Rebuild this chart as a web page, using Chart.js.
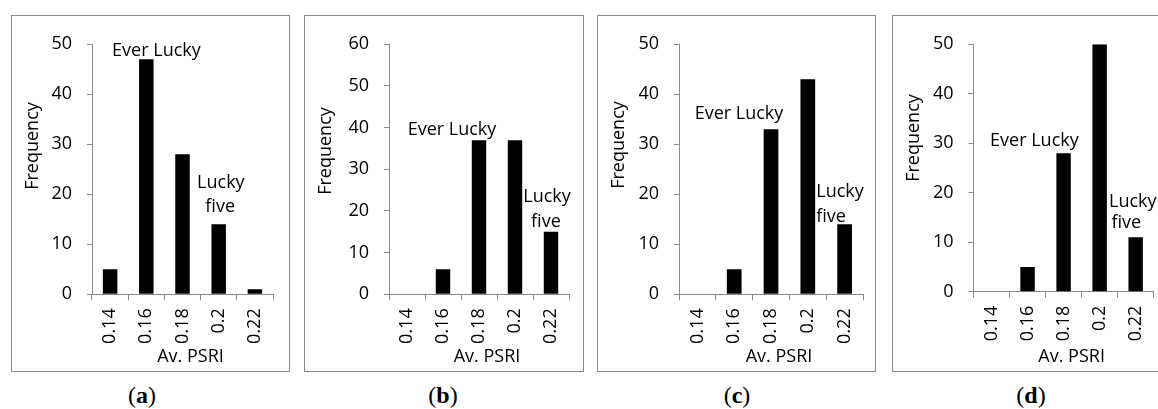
<!DOCTYPE html>
<html>
<head>
<meta charset="utf-8">
<script src="https://cdn.jsdelivr.net/npm/chart.js@4.4.0/dist/chart.umd.min.js"></script>
<style>
  html, body { margin: 0; padding: 0; background: #fff; overflow: hidden; width: 1158px; height: 409px; }
  .panel { position: absolute; top: 15px; }
  .panel canvas { display: block; }
  .cap { position: absolute; top: 382px; font-family: "Liberation Serif", "Times New Roman", serif;
         font-size: 24px; color: #000; transform: translateX(-50%); white-space: nowrap; }
  .cap b { font-weight: bold; }
</style>
</head>
<body>
<div class="panel" id="pa"><canvas id="ca"></canvas></div>
<div class="panel" id="pb"><canvas id="cb"></canvas></div>
<div class="panel" id="pc"><canvas id="cc"></canvas></div>
<div class="panel" id="pd"><canvas id="cd"></canvas></div>
<div class="cap" id="capa">(<b>a</b>)</div>
<div class="cap" id="capb">(<b>b</b>)</div>
<div class="cap" id="capc">(<b>c</b>)</div>
<div class="cap" id="capd">(<b>d</b>)</div>

<script>
// PSRI bins shared by all four histograms
const psriBins = ['0.14', '0.16', '0.18', '0.2', '0.22'];

// Frequency counts per bin
const freqA = [5, 47, 28, 14, 1];
const freqB = [0, 6, 37, 37, 15];
const freqC = [0, 5, 33, 43, 14];
const freqD = [0, 5, 28, 50, 11];

// Y-axis upper limits and tick step
const yMaxA = 50;
const yMaxB = 60;
const yMaxC = 50;
const yMaxD = 50;
const yStep = 10;

// Cultivar labels placed in data units (bin index, frequency at text baseline)
const notesA = [
  { text: 'Ever Lucky', i: 1.28, v: 47.7, align: 'center' },
  { text: 'Lucky',      i: 3.06, v: 21.2, align: 'center' },
  { text: 'five',       i: 3.04, v: 16.5, align: 'center' }
];
const notesB = [
  { text: 'Ever Lucky', i: 1.25, v: 38.2, align: 'center' },
  { text: 'Lucky',      i: 3.89, v: 22.2, align: 'center' },
  { text: 'five',       i: 3.86, v: 16.2, align: 'center' }
];
const notesC = [
  { text: 'Ever Lucky', i: 1.13, v: 35.0, align: 'center' },
  { text: 'Lucky',      i: 3.23, v: 19.4, align: 'left' },
  { text: 'five',       i: 3.23, v: 14.5, align: 'left' }
];
const notesD = [
  { text: 'Ever Lucky', i: 1.19, v: 29.4, align: 'center' },
  { text: 'Lucky',      i: 3.92, v: 17.2, align: 'center' },
  { text: 'five',       i: 3.74, v: 12.9, align: 'center' }
];

// Panel geometry (page px): frame position and plot-area edges inside the frame
const panels = [
  { id: 'a', data: freqA, yMax: yMaxA, notes: notesA, boxX: 11,  boxW: 279, plotL: 81,   plotR: 262,   plotB: 279.3, freqY: 131, capX: 142 },
  { id: 'b', data: freqB, yMax: yMaxB, notes: notesB, boxX: 304, boxW: 280, plotL: 85,   plotR: 265,   plotB: 279.3, freqY: 136, capX: 443 },
  { id: 'c', data: freqC, yMax: yMaxC, notes: notesC, boxX: 597, boxW: 279, plotL: 82,   plotR: 266,   plotB: 279.3, freqY: 130, capX: 737 },
  { id: 'd', data: freqD, yMax: yMaxD, notes: notesD, boxX: 892, boxW: 279, plotL: 81.5, plotR: 261.7, plotB: 276.7, freqY: 123, capX: 1031 }
];

const BOX_H = 357;
const FONT = '"Open Sans", Lato, sans-serif';
const FONT_SIZE = 18;
const AXIS_GREY = '#8a8a8a';

// Frame, axis titles and cultivar labels
const decorations = {
  id: 'decorations',
  beforeDraw(chart, args, opts) {
    const ctx = chart.ctx;
    ctx.save();
    ctx.fillStyle = '#fff';
    ctx.fillRect(0, 0, chart.width, chart.height);
    ctx.strokeStyle = AXIS_GREY;
    ctx.lineWidth = 1;
    ctx.strokeRect(0.5, 0.5, chart.width - 1, chart.height - 1);
    ctx.restore();
  },
  afterDatasetsDraw(chart, args, opts) {
    const ctx = chart.ctx;
    const xs = chart.scales.x, ys = chart.scales.y;
    ctx.save();
    ctx.fillStyle = '#000';
    ctx.font = FONT_SIZE + 'px ' + FONT;
    ctx.textBaseline = 'alphabetic';
    opts.notes.forEach(n => {
      ctx.textAlign = n.align;
      ctx.fillText(n.text, xs.getPixelForValue(n.i), ys.getPixelForValue(n.v));
    });
    // x-axis title
    ctx.textAlign = 'center';
    ctx.textBaseline = 'middle';
    ctx.fillText('Av. PSRI', (chart.chartArea.left + chart.chartArea.right) / 2 + 8, 342);
    // y-axis title
    ctx.translate(22, opts.freqY);
    ctx.rotate(-Math.PI / 2);
    ctx.fillText('Frequency', 0, 0);
    ctx.restore();
  }
};

panels.forEach(p => {
  const wrap = document.getElementById('p' + p.id);
  wrap.style.left = p.boxX + 'px';
  const cv = document.getElementById('c' + p.id);
  cv.width = p.boxW;
  cv.height = BOX_H;
  cv.style.width = p.boxW + 'px';
  cv.style.height = BOX_H + 'px';
  document.getElementById('cap' + p.id).style.left = p.capX + 'px';

  new Chart(cv, {
    type: 'bar',
    data: {
      labels: psriBins,
      datasets: [{
        data: p.data,
        backgroundColor: '#000',
        borderWidth: 0,
        barPercentage: 0.4,
        categoryPercentage: 1.0
      }]
    },
    plugins: [decorations],
    options: {
      responsive: false,
      animation: false,
      devicePixelRatio: 1,
      events: [],
      layout: { padding: { left: 0, top: 29.3, right: p.boxW - p.plotR, bottom: 0 } },
      plugins: {
        legend: { display: false },
        tooltip: { enabled: false },
        decorations: { notes: p.notes, freqY: p.freqY }
      },
      scales: {
        x: {
          type: 'category',
          offset: true,
          grid: { offset: true, drawOnChartArea: false, drawTicks: true, tickLength: 6, color: AXIS_GREY },
          border: { color: AXIS_GREY, width: 1 },
          ticks: {
            autoSkip: false, minRotation: 90, maxRotation: 90, padding: 8,
            color: '#000', font: { family: FONT, size: FONT_SIZE }
          },
          afterFit(s) { s.height = BOX_H - p.plotB; }
        },
        y: {
          min: 0, max: p.yMax,
          grid: { drawOnChartArea: false, drawTicks: true, tickLength: 5, color: AXIS_GREY },
          border: { color: AXIS_GREY, width: 1 },
          ticks: {
            stepSize: yStep, padding: 15,
            color: '#000', font: { family: FONT, size: FONT_SIZE }
          },
          afterFit(s) { s.width = p.plotL; }
        }
      }
    }
  });
});
</script>
</body>
</html>
